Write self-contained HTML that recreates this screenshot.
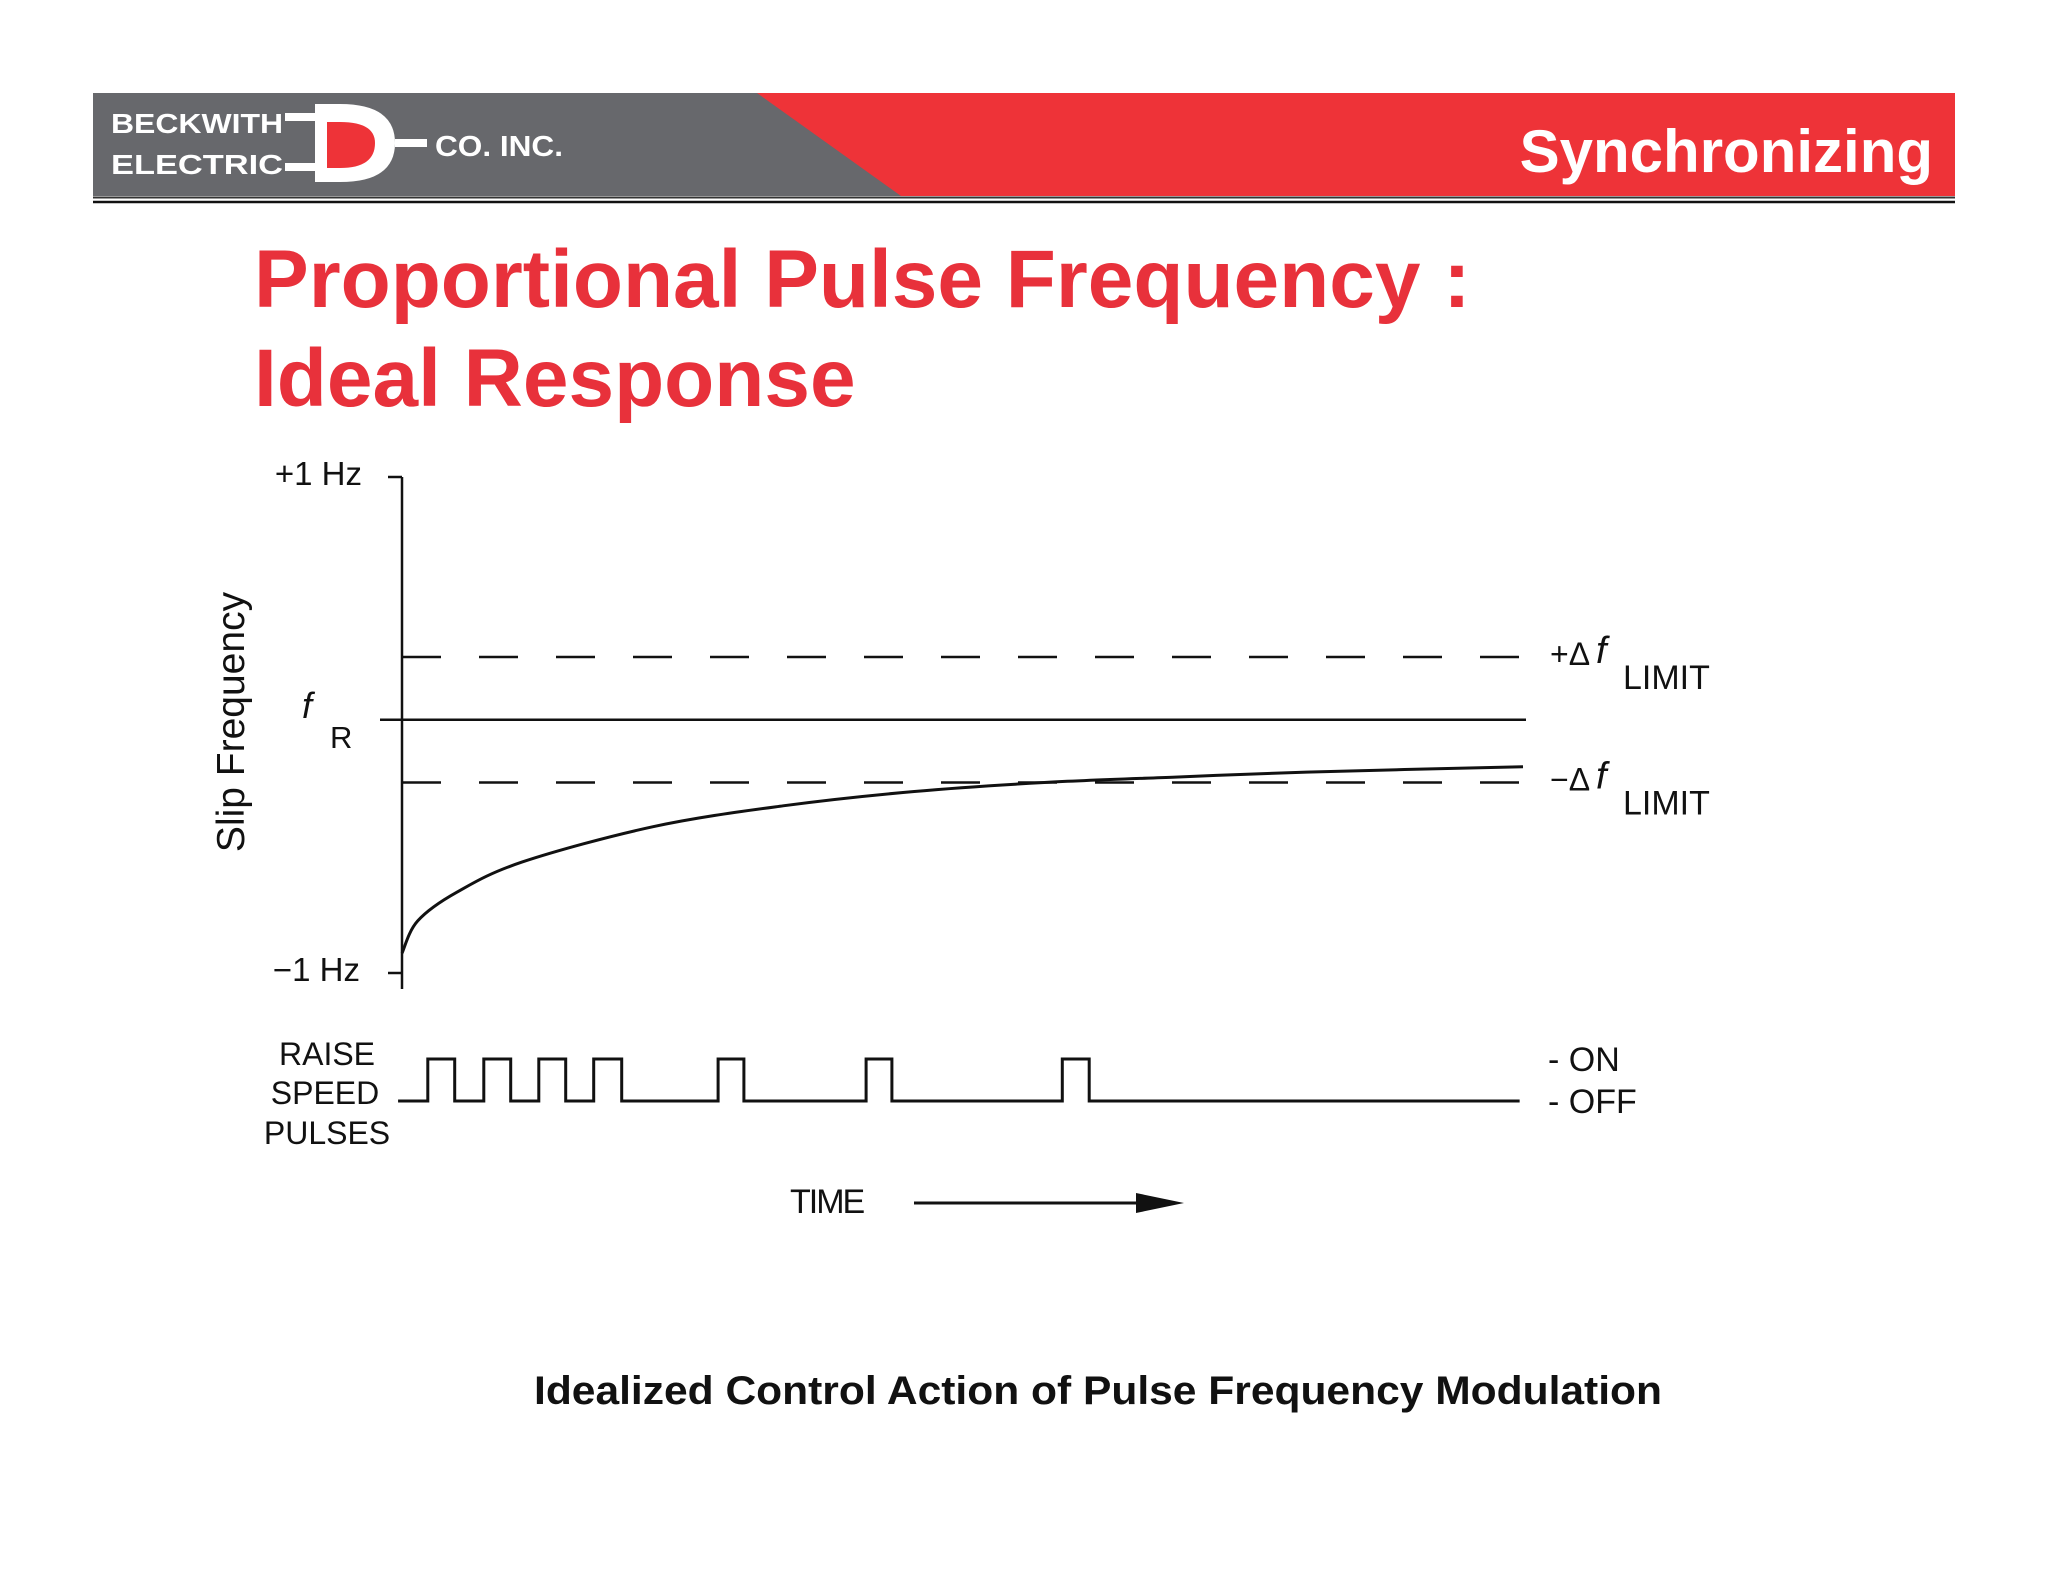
<!DOCTYPE html>
<html><head><meta charset="utf-8"><style>
html,body{margin:0;padding:0;background:#fff;}
svg{display:block;}
text{font-family:"Liberation Sans",sans-serif;}
</style></head><body>
<svg width="2048" height="1582" viewBox="0 0 2048 1582">
<g>
<rect x="93" y="93" width="1862" height="103" fill="#ee3338"/>
<polygon points="93,93 757,93 901,196 93,196" fill="#67686c"/>
<line x1="93" y1="197.5" x2="1955" y2="197.5" stroke="#333" stroke-width="2"/>
<line x1="93" y1="202" x2="1955" y2="202" stroke="#111" stroke-width="2.5"/>
<g>
<text x="111" y="133" font-size="28" font-weight="bold" fill="#fff" textLength="172" lengthAdjust="spacingAndGlyphs">BECKWITH</text>
<text x="111" y="174" font-size="28" font-weight="bold" fill="#fff" textLength="172" lengthAdjust="spacingAndGlyphs">ELECTRIC</text>
<rect x="285" y="113" width="30" height="8" fill="#fff"/>
<rect x="285" y="163" width="30" height="8" fill="#fff"/>
<path d="M315,104 L340,104 Q395,104 395,143 Q395,182 340,182 L315,182 Z" fill="#fff"/>
<path d="M327,122 L340,122 Q375,122 375,143 Q375,168 340,168 L327,168 Z" fill="#ee3338"/>
<rect x="395" y="139" width="32" height="8" fill="#fff"/>
<text x="435" y="156" font-size="29" font-weight="bold" fill="#fff" textLength="128" lengthAdjust="spacingAndGlyphs">CO. INC.</text>
</g>
<text x="1933" y="172" font-size="60" font-weight="bold" fill="#fff" text-anchor="end">Synchronizing</text>
</g>
<text x="254" y="307" font-size="82" font-weight="bold" fill="#e8313b">Proportional Pulse Frequency :</text>
<text x="254" y="406" font-size="82" font-weight="bold" fill="#e8313b">Ideal Response</text>
<g id="chart"></g>
<text x="1098" y="1404" font-size="40" font-weight="bold" fill="#111" text-anchor="middle" textLength="1128" lengthAdjust="spacingAndGlyphs">Idealized Control Action of Pulse Frequency Modulation</text>
</svg>
<script>
const curveT=[0,1.4,4.9,10.7,22.4,34,45.7,57.3,69,80.7,100];
const curveV=[-0.92,-0.79,-0.674,-0.553,-0.41,-0.326,-0.268,-0.232,-0.21,-0.19,-0.168];
const limitPlus=0.274, refLine=0.021, limitMinus=-0.232;
const pulseOn=[2.3,7.3,12.2,17.1,28.2,41.4,58.9];
const pulseOff=[4.7,9.7,14.6,19.6,30.5,43.7,61.3];
const yTicks=["+1 Hz","\u22121 Hz"];
const NS="http://www.w3.org/2000/svg";
const X=t=>402+t*11.21;
const Y=v=>477+(1-v)/2*496;
const g=document.getElementById('chart');
function mk(tag,attrs,txt){const e=document.createElementNS(NS,tag);for(const k in attrs)e.setAttribute(k,attrs[k]);if(txt!==undefined)e.textContent=txt;g.appendChild(e);return e;}
let e;
e=mk('line',{x1:X(0),y1:Y(1),x2:X(0),y2:Y(-1)+16,stroke:'#111','stroke-width':2.5});


e=mk('line',{x1:X(0)-14,y1:Y(1),x2:X(0),y2:Y(1),stroke:'#111','stroke-width':2.5});


e=mk('line',{x1:X(0)-14,y1:Y(-1),x2:X(0),y2:Y(-1),stroke:'#111','stroke-width':2.5});


e=mk('text',{x:362,y:Y(1)+8,'font-size':33,'text-anchor':'end',fill:'#111'},yTicks[0]);


e=mk('text',{x:360,y:Y(-1)+8,'font-size':33,'text-anchor':'end',fill:'#111'},yTicks[1]);


e=mk('text',{x:0,y:0,'font-size':39,fill:'#111','text-anchor':'middle',transform:'translate(244,722) rotate(-90)'},'Slip Frequency');


e=mk('line',{x1:X(0),y1:Y(limitPlus),x2:X(100),y2:Y(limitPlus),stroke:'#111','stroke-width':2.5,'stroke-dasharray':'39 38'});


e=mk('line',{x1:X(0),y1:Y(limitMinus),x2:X(100),y2:Y(limitMinus),stroke:'#111','stroke-width':2.5,'stroke-dasharray':'39 38'});


e=mk('line',{x1:X(0)-22,y1:Y(refLine),x2:X(100)+3,y2:Y(refLine),stroke:'#111','stroke-width':2.5});


e=mk('text',{x:302,y:Y(refLine)-2,'font-size':36,'font-style':'italic','font-family':'Liberation Serif',fill:'#111'},'f');


e=mk('text',{x:330,y:Y(refLine)+28,'font-size':31,fill:'#111'},'R');


// smooth curve via Catmull-Rom
const pts=curveT.map((t,i)=>[X(t),Y(curveV[i])]);
let d='M'+pts[0][0].toFixed(1)+','+pts[0][1].toFixed(1);
for(let i=0;i<pts.length-1;i++){
const p0=pts[Math.max(i-1,0)],p1=pts[i],p2=pts[i+1],p3=pts[Math.min(i+2,pts.length-1)];
const c1=[p1[0]+(p2[0]-p0[0])/6,p1[1]+(p2[1]-p0[1])/6];
const c2=[p2[0]-(p3[0]-p1[0])/6,p2[1]-(p3[1]-p1[1])/6];
d+='C'+c1[0].toFixed(1)+','+c1[1].toFixed(1)+' '+c2[0].toFixed(1)+','+c2[1].toFixed(1)+' '+p2[0].toFixed(1)+','+p2[1].toFixed(1);
}
e=mk('path',{d:d,fill:'none',stroke:'#111','stroke-width':3});


e=mk('text',{x:1550,y:Y(limitPlus)+8,'font-size':32,fill:'#111'},'+\u0394');


e=mk('text',{x:1596,y:Y(limitPlus)+6,'font-size':38,'font-style':'italic','font-family':'Liberation Serif',fill:'#111'},'f');


e=mk('text',{x:1623,y:Y(limitPlus)+32,'font-size':34,fill:'#111'},'LIMIT');


e=mk('text',{x:1550,y:Y(limitMinus)+8,'font-size':32,fill:'#111'},'\u2212\u0394');


e=mk('text',{x:1596,y:Y(limitMinus)+6,'font-size':38,'font-style':'italic','font-family':'Liberation Serif',fill:'#111'},'f');


e=mk('text',{x:1623,y:Y(limitMinus)+32,'font-size':34,fill:'#111'},'LIMIT');


const yOff=1101,yOn=1059;
let p='M'+X(-0.35)+','+yOff;
pulseOn.forEach((t,i)=>{p+='L'+X(t).toFixed(1)+','+yOff+'L'+X(t).toFixed(1)+','+yOn+'L'+X(pulseOff[i]).toFixed(1)+','+yOn+'L'+X(pulseOff[i]).toFixed(1)+','+yOff;});
p+='L'+X(99.7)+','+yOff;
e=mk('path',{d:p,fill:'none',stroke:'#111','stroke-width':3});


[['RAISE',1065,327],['SPEED',1104,325],['PULSES',1144,327]].forEach((a,i)=>{
e=mk('text',{x:a[2],y:a[1],'font-size':32,'text-anchor':'middle',fill:'#111'},a[0]);


});
e=mk('text',{x:1548,y:1071,'font-size':34,fill:'#111'},'- ON');


e=mk('text',{x:1548,y:1113,'font-size':34,fill:'#111'},'- OFF');


e=mk('text',{x:790,y:1213,'font-size':34,fill:'#111','letter-spacing':'-2'},'TIME');


e=mk('line',{x1:914,y1:1203,x2:1150,y2:1203,stroke:'#111','stroke-width':3});


e=mk('polygon',{points:'1136,1193 1184,1203 1136,1213',fill:'#111'});


</script>
</body></html>
